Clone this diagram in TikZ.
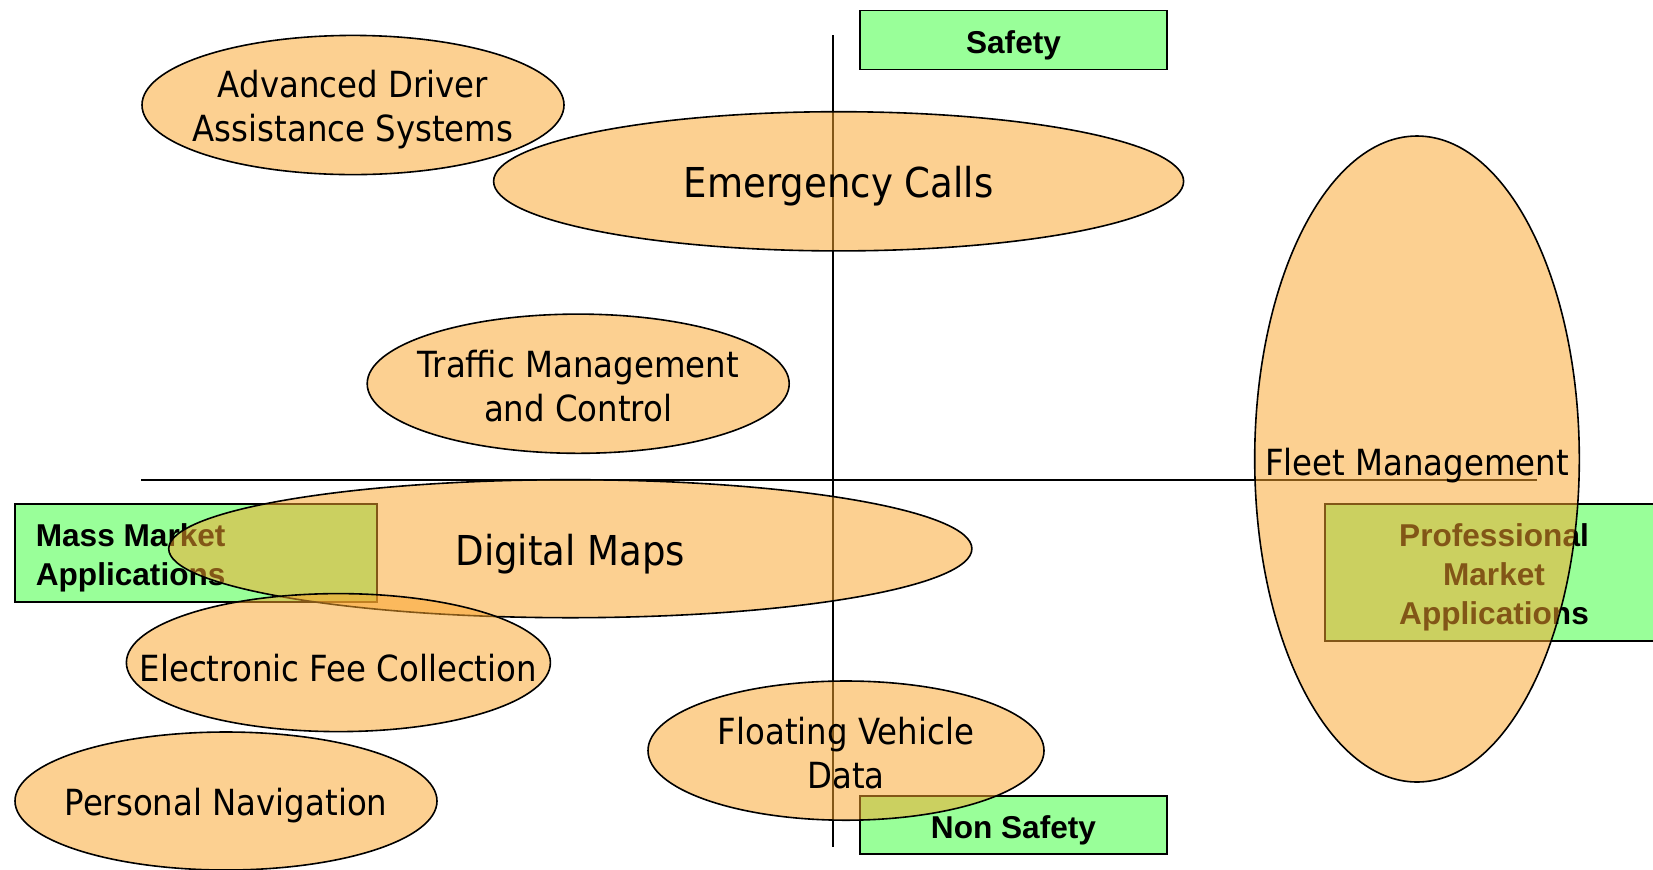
\documentclass[tikz,border=0pt]{standalone}
\usepackage{fontspec}
\setmainfont[FakeStretch=0.9]{DejaVu Sans}
\newfontfamily\boxfont{Liberation Sans}
\usetikzlibrary{shapes.geometric}
\definecolor{boxgreen}{RGB}{153,255,153}
\definecolor{ellorange}{RGB}{250,165,45}
\begin{document}
\begin{tikzpicture}[x=0.5pt,y=-0.5pt,
  axis/.style={draw=black, line width=0.75pt},
  ell/.style={ellipse, draw=black, line width=0.8pt, fill=ellorange, fill opacity=0.52, inner sep=0pt, outer sep=0pt},
  etext/.style={inner sep=0pt, align=center, font=\fontsize{18}{22}\selectfont},
  bigtext/.style={etext, font=\fontsize{20.6}{24}\selectfont},
  lab/.style={rectangle, draw=black, line width=0.75pt, fill=boxgreen, inner sep=0pt},
  labtext/.style={inner sep=0pt, font=\boxfont\bfseries\fontsize{15.8}{19.5}\selectfont}]
\useasboundingbox (0,0) rectangle (1653,869);
% axes
\coordinate (vt) at (833,35);
\coordinate (vb) at (833,847);
\coordinate (hl) at (141,480);
\coordinate (hr) at (1537,480);
\draw[axis] (vt) -- (vb);
\draw[axis] (hl) -- (hr);
% boxes
\node[lab, minimum width=153.5pt, minimum height=29.5pt] (safety) at (1013.5,40) {};
\node[labtext] (safetyt) at ([yshift=-2.5pt]safety.center) {Safety};
\node[lab, minimum width=153.5pt, minimum height=29pt] (nonsafety) at (1013.5,825) {};
\node[labtext] (nonsafetyt) at ([yshift=-2.5pt]nonsafety.center) {Non Safety};
\node[lab, minimum width=181pt, minimum height=49pt] (mass) at (196,553) {};
\node[labtext, align=left, anchor=west] (masst) at ([xshift=10.6pt,yshift=-2.5pt]mass.west) {Mass Market\\Applications};
\node[lab, minimum width=169pt, minimum height=68.5pt] (prof) at (1494,572.5) {};
\node[labtext, align=center] (proft) at ([yshift=-2.5pt]prof.center) {Professional\\Market\\Applications};
% ellipses
\node[ell, minimum width=211pt, minimum height=69.6pt] (adas) at (353,105) {};
\node[etext] (adast) at ([yshift=-2.5pt]adas.center) {Advanced Driver\\Assistance Systems};
\node[ell, minimum width=345pt, minimum height=69.6pt] (ecall) at (838.6,181.3) {};
\node[bigtext] (ecallt) at ([yshift=-2.5pt]ecall.center) {Emergency Calls};
\node[ell, minimum width=211pt, minimum height=69.6pt] (traffic) at (578.2,383.7) {};
\node[etext] (traffict) at ([yshift=-1pt]traffic.center) {Traffic Management\\and Control};
\node[ell, minimum width=401.6pt, minimum height=69pt] (maps) at (570.3,548.7) {};
\node[bigtext] (mapst) at ([yshift=-2.5pt]maps.center) {Digital Maps};
\node[ell, minimum width=212pt, minimum height=69pt] (fee) at (338.4,662.6) {};
\node[etext] (feet) at ([yshift=-2.5pt]fee.center) {Electronic Fee Collection};
\node[ell, minimum width=211pt, minimum height=69pt] (pnav) at (226,801) {};
\node[etext] (pnavt) at ([yshift=-2.5pt]pnav.center) {Personal Navigation};
\node[ell, minimum width=198pt, minimum height=69.6pt] (fvd) at (846,750.6) {};
\node[etext] (fvdt) at ([yshift=-1pt]fvd.center) {Floating Vehicle\\Data};
\node[ell, minimum width=162.3pt, minimum height=323pt] (fleet) at (1417,459) {};
\node[etext] (fleett) at ([yshift=-3.5pt]fleet.center) {Fleet Management};
\end{tikzpicture}
\end{document}
